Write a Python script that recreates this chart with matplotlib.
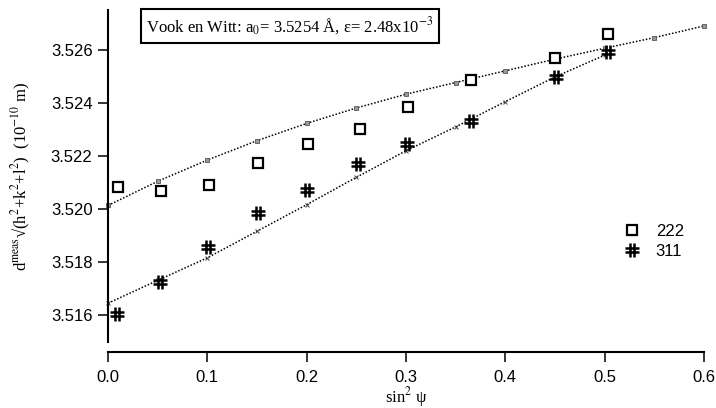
import matplotlib
matplotlib.use("Agg")
import matplotlib.pyplot as plt
from matplotlib.path import Path

# Fitted curves (Vook en Witt model)
fit_x_222 = [0.00, 0.05, 0.10, 0.15, 0.20, 0.25, 0.30, 0.35, 0.40, 0.45, 0.50, 0.55, 0.60]
fit_y_222 = [3.52014, 3.52105, 3.52185, 3.52258, 3.52323, 3.52381, 3.52433,
             3.52477, 3.52521, 3.52565, 3.52606, 3.52646, 3.52690]
fit_x_311 = [0.00, 0.05, 0.10, 0.15, 0.20, 0.25, 0.30, 0.35, 0.40, 0.45, 0.50]
fit_y_311 = [3.51646, 3.51732, 3.51817, 3.51917, 3.52017, 3.52120, 3.52220,
             3.52310, 3.52405, 3.52498, 3.52580]

# Measured values
meas_x_222 = [0.010, 0.053, 0.102, 0.151, 0.201, 0.254, 0.302, 0.365, 0.450, 0.503]
meas_y_222 = [3.52082, 3.52070, 3.52091, 3.52174, 3.52245, 3.52303, 3.52386,
              3.52487, 3.52569, 3.52659]
meas_x_311 = [0.009, 0.052, 0.101, 0.151, 0.200, 0.252, 0.301, 0.365, 0.451, 0.503]
meas_y_311 = [3.51606, 3.51725, 3.51859, 3.51985, 3.52074, 3.52171, 3.52247,
              3.52333, 3.52496, 3.52590]

series_labels = ["222", "311"]
x_ticks = [0.0, 0.1, 0.2, 0.3, 0.4, 0.5, 0.6]
y_ticks = [3.516, 3.518, 3.520, 3.522, 3.524, 3.526]

plt.rcParams["font.family"] = ["Liberation Sans", "DejaVu Sans"]
plt.rcParams["mathtext.fontset"] = "stix"
serif = ["Liberation Serif", "DejaVu Serif"]

# '#'-shaped marker with upright strokes
hash_marker = Path(
    [(-0.35, -1), (-0.35, 1), (0.35, -1), (0.35, 1),
     (-1, -0.3), (1, -0.3), (-1, 0.35), (1, 0.35)],
    [Path.MOVETO, Path.LINETO, Path.MOVETO, Path.LINETO,
     Path.MOVETO, Path.LINETO, Path.MOVETO, Path.LINETO])

fig = plt.figure(figsize=(7.16, 4.08), dpi=100)
ax = fig.add_axes([108 / 716, 1 - 342 / 408, 596 / 716, 332 / 408])

ax.plot(fit_x_222, fit_y_222, linestyle=(0, (1, 1.2)), color="black", lw=1.1,
        marker="s", ms=3.2, mfc="#999999", mec="#555555", mew=0.6, clip_on=False)
ax.plot(fit_x_311, fit_y_311, linestyle=(0, (1, 1.2)), color="black", lw=1.1,
        marker="x", ms=3.0, mec="#444444", mew=0.7, clip_on=False)

ax.plot(meas_x_222, meas_y_222, linestyle="none", marker="s", ms=7.8,
        mfc="white", mec="black", mew=1.6, label=series_labels[0], clip_on=False)
ax.plot(meas_x_311, meas_y_311, linestyle="none", marker=hash_marker, ms=9.5,
        mfc="none", mec="black", mew=1.8, label=series_labels[1], clip_on=False)

ax.set_xlim(0, 0.6)
ax.set_ylim(3.515, 3.5275)
ax.set_xticks(x_ticks)
ax.set_xticklabels([f"{v:.1f}" for v in x_ticks])
ax.set_yticks(y_ticks)
ax.set_yticklabels([f"{v:.3f}" for v in y_ticks])

for side in ("top", "right"):
    ax.spines[side].set_visible(False)
ax.spines["bottom"].set_position(("outward", 7.2))
ax.spines["bottom"].set_linewidth(1.5)
ax.spines["left"].set_linewidth(1.5)
ax.tick_params(direction="out", length=7.2, width=1.1, labelsize=12)
ax.tick_params(axis="x", pad=6.0)
ax.tick_params(axis="y", pad=4.0)

ax.set_xlabel(r"sin$^2$ ψ", family=serif, fontsize=12, labelpad=0)
ax.set_ylabel(r"d$^{\rm meas}$√(h$^2$+k$^2$+l$^2$)  (10$^{-10}$ m)",
              family=serif, fontsize=12, labelpad=13)

fig.text(290 / 716, 1 - 26 / 408,
         r"Vook en Witt: a$_0$= 3.5254 Å, ε= 2.48x10$^{-3}$",
         family=serif, fontsize=12,
         ha="center", va="center",
         bbox=dict(boxstyle="square,pad=0.35", fc="white", ec="black", lw=1.5))

ax.legend(loc="upper left", bbox_to_anchor=(624 / 716, 1 - 224 / 408),
          bbox_transform=fig.transFigure, frameon=False, fontsize=12,
          handlelength=1.0, handletextpad=0.9, labelspacing=0.3,
          borderpad=0, borderaxespad=0)

fig.savefig("out.png", dpi=100)
